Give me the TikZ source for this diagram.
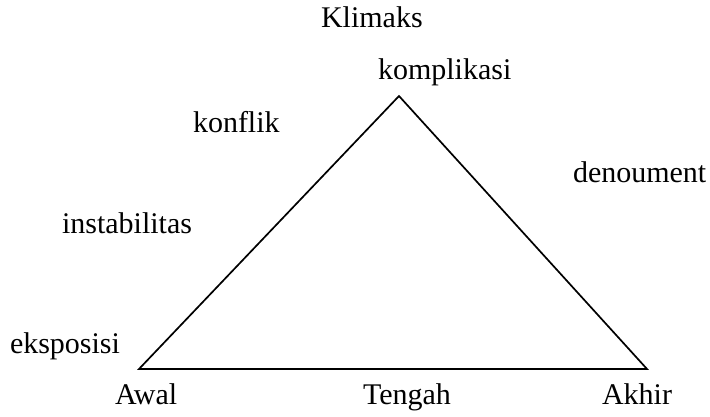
\documentclass[tikz,border=0pt]{standalone}
\usepackage{fontspec}
\setmainfont{Liberation Serif}
\begin{document}
\begin{tikzpicture}[x=1pt,y=-1pt,
  lbl/.style={anchor=base west,inner sep=0pt,outer sep=0pt,font=\fontsize{30}{35}\selectfont},
  tri/.style={draw=black,line width=1.7pt,line join=miter}]
\useasboundingbox (0,0) rectangle (710,416);
\coordinate (A) at (139,369);
\coordinate (B) at (399,96);
\coordinate (C) at (647,369);
\draw[tri] (A) -- (B) -- (C) -- cycle;
\node[lbl] (klimaks) at (321,27) {Klimaks};
\node[lbl] (komplikasi) at (378,79) {komplikasi};
\node[lbl] (konflik) at (193,132) {konflik};
\node[lbl] (denoument) at (573,182) {denoument};
\node[lbl] (instabilitas) at (62,233) {instabilitas};
\node[lbl] (eksposisi) at (10,353) {eksposisi};
\node[lbl] (awal) at (115,404) {Awal};
\node[lbl] (tengah) at (363,404) {Tengah};
\node[lbl] (akhir) at (602,404) {Akhir};
\end{tikzpicture}
\end{document}
